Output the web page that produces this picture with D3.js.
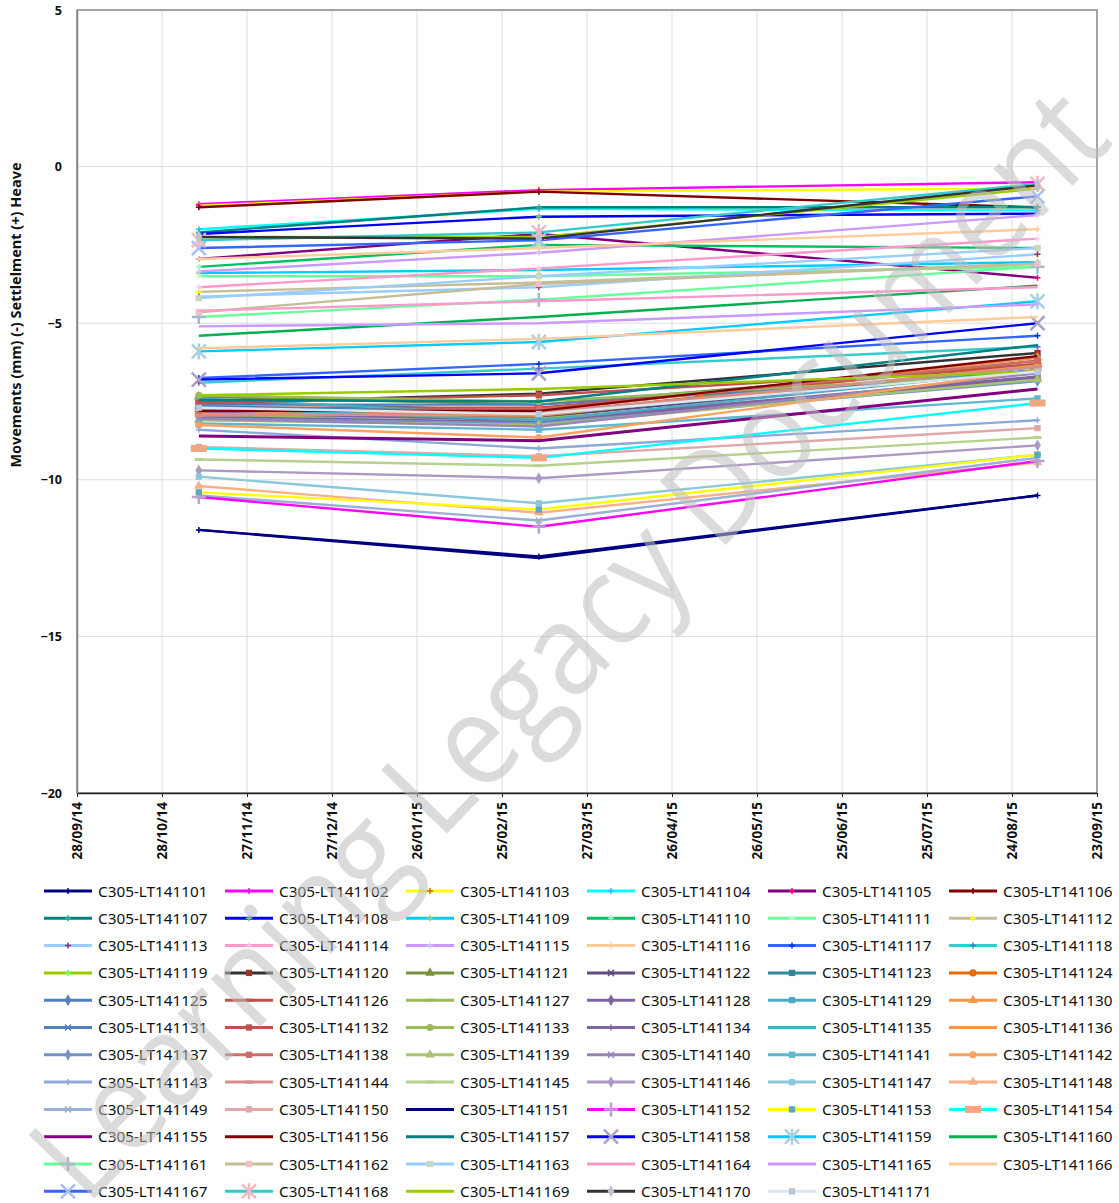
<!DOCTYPE html>
<html>
<head>
<meta charset="utf-8">
<script src="https://cdn.jsdelivr.net/npm/d3@7/dist/d3.min.js"></script>
<style>
html,body{margin:0;padding:0;background:#fff;}
svg{display:block;}
</style>
</head>
<body>
<svg id="chart" width="1119" height="1203"></svg>
<script>
// ---------------- DATA ----------------
const seriesIds = d3.range(101, 172).map(n => "C305-LT141" + n);
const surveyDates = ["2014-11-10", "2015-03-10", "2015-09-02"];
const tickDates = ["2014-09-28","2014-10-28","2014-11-27","2014-12-27","2015-01-26","2015-02-25","2015-03-27","2015-04-26","2015-05-26","2015-06-25","2015-07-25","2015-08-24","2015-09-23"];
const tickLabels = ["28/09/14","28/10/14","27/11/14","27/12/14","26/01/15","25/02/15","27/03/15","26/04/15","26/05/15","25/06/15","25/07/15","24/08/15","23/09/15"];
const yTicks = [5, 0, -5, -10, -15, -20];

// movement values (mm) at each survey date, series 101..171
const valuesNov = [
 -11.6,-1.2,-1.25,-2.0,-2.95,-1.3,-2.1,-2.15,-3.4,-3.2,
 -3.5,-4.0,-4.15,-3.85,-3.35,-2.95,-6.75,-6.9,-2.25,-7.55,
 -7.35,-7.9,-7.5,-7.8,-7.6,-7.7,-7.95,-7.85,-7.4,-7.75,
 -7.65,-7.55,-7.3,-8.0,-7.7,-7.9,-8.05,-7.8,-8.1,-8.05,
 -8.2,-8.25,-8.4,-7.95,-9.35,-9.7,-9.9,-10.2,-10.5,-8.95,
 -11.6,-10.55,-10.4,-9.0,-8.6,-7.8,-7.45,-6.8,-5.9,-5.4,
 -4.8,-4.65,-4.2,-4.6,-5.1,-5.8,-2.6,-2.35,-7.3,-2.25,
 -7.7];
const valuesMar = [
 -12.45,-0.75,-0.8,-1.35,-2.15,-0.8,-1.3,-1.6,-3.3,-2.5,
 -3.5,-3.7,-3.85,-3.25,-2.75,-2.6,-6.3,-6.45,-2.25,-7.25,
 -7.6,-8.0,-7.8,-7.9,-7.6,-7.7,-8.05,-8.1,-7.95,-7.8,
 -7.85,-7.3,-7.5,-8.15,-8.1,-7.95,-8.2,-7.75,-8.25,-8.3,
 -8.4,-8.65,-9.0,-7.85,-9.55,-9.95,-10.75,-11.05,-11.3,-9.25,
 -12.5,-11.5,-10.95,-9.3,-8.75,-7.8,-7.5,-6.6,-5.6,-4.8,
 -4.25,-3.75,-3.5,-4.3,-5.0,-5.5,-2.35,-2.1,-7.1,-2.3,
 -7.9];
const valuesSep = [
 -10.5,-0.5,-0.7,-1.4,-3.55,-1.3,-1.3,-1.5,-3.05,-2.6,
 -3.2,-3.1,-2.8,-2.3,-1.55,-2.0,-5.4,-5.75,-0.7,-5.95,
 -6.3,-6.5,-6.1,-6.2,-6.6,-6.3,-6.8,-6.7,-6.4,-6.1,
 -6.5,-6.4,-6.6,-6.75,-6.5,-6.35,-6.85,-6.2,-6.8,-6.6,
 -7.4,-6.5,-8.1,-6.4,-8.65,-8.9,-9.2,-9.45,-9.3,-8.35,
 -10.5,-9.4,-9.2,-7.55,-7.1,-6.05,-5.7,-5.0,-4.3,-3.8,
 -3.2,-3.1,-2.6,-3.85,-4.4,-4.8,-0.95,-0.55,-6.55,-0.6,
 -6.55];

const lineColors = [
 "#000080","#FF00FF","#FFFF00","#00FFFF","#800080","#800000","#008080","#0000FF","#00CCFF","#00C060",
 "#66FF99","#C4BD97","#99CCFF","#FF99CC","#CC99FF","#FFCC99","#3366FF","#33CCCC","#99CC00","#333333",
 "#77933C","#604A7B","#31859C","#E46C0A","#4F81BD","#C0504D","#9BBB59","#8064A2","#4BACC6","#F79646",
 "#4F81BD","#C0504D","#9BBB59","#8064A2","#4BACC6","#F79646","#7394CB","#CD6C69","#A9C46E","#9A84B6",
 "#5FB6CF","#F8A262","#8EA9D8","#D58D8B","#B8D08E","#AB9AC6","#8BC8DA","#F8B088","#9BB0D3","#E0A8A7",
 "#000080","#FF00FF","#FFFF00","#00FFFF","#800080","#800000","#008080","#0000FF","#00CCFF","#00B050",
 "#66FF99","#C4BD97","#99CCFF","#FF99CC","#CC99FF","#FFCC99","#3366FF","#33CCCC","#99CC00","#333333",
 "#DCE6F2"];
const markerTypes = [
 "plus","plus","plus","plus","plus","plus","plus","plus","plus","plus",
 "plus","plus","plus","plus","plus","plus","plus","plus","plus","square",
 "triangle","x","square","circle","diamond","dash","dash","diamond","square","triangle",
 "x","square","circle","plus","dash","dash","diamond","square","triangle","x",
 "square","circle","plus","dash","dash","diamond","square","triangle","x","square",
 "none","bigplus","square","rect","none","none","none","bigx","asterisk","none",
 "bigplus","square","square","none","none","none","bigx","asterisk","none","diamond",
 "square"];
const markerColors = [
 "#000080","#FF00FF","#E06020","#33BBFF","#FF0066","#800000","#20B0A0","#66CC99","#99CC66","#99FFCC",
 "#CCFFCC","#FFFF00","#993366","#FFCCEE","#CCCCFF","#FFCC99","#0033CC","#6666CC","#66FF66","#A0302E",
 "#77933C","#604A7B","#31859C","#E46C0A","#4F81BD","#C0504D","#9BBB59","#8064A2","#4BACC6","#F79646",
 "#4F81BD","#C0504D","#9BBB59","#8064A2","#4BACC6","#F79646","#7394CB","#CD6C69","#A9C46E","#9A84B6",
 "#5FB6CF","#F8A262","#8EA9D8","#D58D8B","#B8D08E","#AB9AC6","#8BC8DA","#F8B088","#9BB0D3","#E0A8A7",
 "#000080","#B8A0D0","#5BA8C0","#F0A880","#800080","#800000","#008080","#A8A0C8","#A8D0E0","#00B050",
 "#A0B8D0","#F0C0C8","#C8D8C0","#FF99CC","#CC99FF","#FFCC99","#A8C0F0","#F0B8C0","#99CC00","#C0C0D0",
 "#B8C8D8"];

// ---------------- LAYOUT ----------------
const svg = d3.select("#chart");
const plot = {left: 77, right: 1097, top: 10, bottom: 793};
const parse = d3.utcParse("%Y-%m-%d");

const x = d3.scaleUtc()
  .domain([parse(tickDates[0]), parse(tickDates[tickDates.length-1])])
  .range([plot.left, plot.right]);
const y = d3.scaleLinear().domain([-20, 5]).range([plot.bottom, plot.top]);

const FONT = "'Noto Sans', 'DejaVu Sans', sans-serif";

// gridlines
const grid = svg.append("g");
grid.selectAll("line.v").data(tickDates.slice(1, -1)).join("line")
  .attr("x1", d => x(parse(d))).attr("x2", d => x(parse(d)))
  .attr("y1", plot.top).attr("y2", plot.bottom)
  .attr("stroke", "#dcdcdc").attr("stroke-width", 1);
grid.selectAll("line.h").data(yTicks.slice(1, -1)).join("line")
  .attr("x1", plot.left).attr("x2", plot.right)
  .attr("y1", d => y(d)).attr("y2", d => y(d))
  .attr("stroke", "#dcdcdc").attr("stroke-width", 1);

// frame
svg.append("rect").attr("x", plot.left).attr("y", plot.top)
  .attr("width", plot.right - plot.left).attr("height", plot.bottom - plot.top)
  .attr("fill", "none").attr("stroke", "#868686").attr("stroke-width", 1.5);

// axes
const xAxis = d3.axisBottom(x)
  .tickValues(tickDates.map(parse))
  .tickFormat((d, i) => tickLabels[i])
  .tickSize(4).tickSizeOuter(0);
const gx = svg.append("g").attr("transform", `translate(0,${plot.bottom})`).call(xAxis);
gx.select(".domain").attr("stroke", "#222").attr("stroke-width", 1.5);
gx.selectAll(".tick line").attr("stroke", "#222");
gx.selectAll(".tick text")
  .attr("font-family", FONT).attr("font-size", 13.5).attr("font-weight", "bold").attr("fill", "#111")
  .attr("transform", "rotate(-90)")
  .attr("text-anchor", "end").attr("x", -9).attr("y", 0).attr("dy", "0.36em");

const yAxis = d3.axisLeft(y).tickValues(yTicks).tickFormat(d3.format("d")).tickSize(0).tickPadding(15);
const gy = svg.append("g").attr("transform", `translate(${plot.left},0)`).call(yAxis);
gy.select(".domain").attr("stroke", "#868686").attr("stroke-width", 1.5);
gy.selectAll(".tick text")
  .attr("font-family", FONT).attr("font-size", 12.5).attr("font-weight", "bold").attr("fill", "#111");

svg.append("text")
  .attr("transform", "translate(21,315) rotate(-90)")
  .attr("text-anchor", "middle")
  .attr("font-family", FONT).attr("font-size", 14.5).attr("font-weight", "bold").attr("fill", "#111")
  .text("Movements (mm) (-) Settlelment (+) Heave");

// ---------------- MARKERS ----------------
function drawMarker(g, type, color, cx, cy) {
  const s = 3;
  if (type === "none") return;
  if (type === "plus" || type === "bigplus") {
    const r = type === "bigplus" ? 7 : s;
    g.append("path").attr("d", `M${cx-r},${cy}H${cx+r}M${cx},${cy-r}V${cy+r}`)
      .attr("stroke", color).attr("stroke-width", type === "bigplus" ? 2.5 : 1.5).attr("fill", "none");
  } else if (type === "x" || type === "bigx") {
    const r = type === "bigx" ? 7 : s;
    g.append("path").attr("d", `M${cx-r},${cy-r}L${cx+r},${cy+r}M${cx-r},${cy+r}L${cx+r},${cy-r}`)
      .attr("stroke", color).attr("stroke-width", type === "bigx" ? 2.5 : 1.5).attr("fill", "none");
  } else if (type === "asterisk") {
    const r = 7;
    g.append("path").attr("d", `M${cx-r},${cy-r}L${cx+r},${cy+r}M${cx-r},${cy+r}L${cx+r},${cy-r}M${cx},${cy-r-1}V${cy+r+1}`)
      .attr("stroke", color).attr("stroke-width", 2.5).attr("fill", "none");
  } else if (type === "dash") {
    g.append("path").attr("d", `M${cx-4},${cy}H${cx+4}`)
      .attr("stroke", color).attr("stroke-width", 3).attr("fill", "none");
  } else if (type === "rect") {
    g.append("rect").attr("x", cx-8).attr("y", cy-3.5).attr("width", 16).attr("height", 7).attr("fill", color);
  } else {
    const map = {square: d3.symbolSquare, circle: d3.symbolCircle, triangle: d3.symbolTriangle, diamond: d3.symbolDiamond};
    g.append("path").attr("d", d3.symbol().type(map[type]).size(40)())
      .attr("transform", `translate(${cx},${cy})`).attr("fill", color);
  }
}

// ---------------- SERIES ----------------
const line = d3.line().x(d => x(d.date)).y(d => y(d.value));
const seriesG = svg.append("g");
seriesIds.forEach((id, i) => {
  const pts = [valuesNov[i], valuesMar[i], valuesSep[i]].map((v, k) => ({date: parse(surveyDates[k]), value: v}));
  const g = seriesG.append("g");
  g.append("path").datum(pts).attr("d", line)
    .attr("fill", "none").attr("stroke", lineColors[i])
    .attr("stroke-width", i === 54 ? 3 : 2.4).attr("stroke-linejoin", "round");
  pts.forEach(p => drawMarker(g, markerTypes[i], markerColors[i], x(p.date), y(p.value)));
});

// ---------------- LEGEND ----------------
const colX = d3.range(6).map(c => 44 + c * 181);
const rowY0 = 891, rowStep = 27.3;
const legend = svg.append("g");
seriesIds.forEach((id, i) => {
  const cx = colX[i % 6], cy = rowY0 + Math.floor(i / 6) * rowStep;
  const g = legend.append("g");
  g.append("line").attr("x1", cx).attr("x2", cx + 48).attr("y1", cy).attr("y2", cy)
    .attr("stroke", lineColors[i]).attr("stroke-width", 3);
  drawMarker(g, markerTypes[i], markerColors[i], cx + 24, cy);
  g.append("text").attr("x", cx + 54).attr("y", cy + 5.5)
    .attr("font-family", FONT).attr("font-size", 15.3).attr("fill", "#111")
    .text(id);
});

// ---------------- WATERMARK ----------------
svg.append("text")
  .attr("transform", "translate(565,640) rotate(-46)")
  .attr("text-anchor", "middle").attr("dominant-baseline", "central")
  .attr("font-family", "'Open Sans', 'Noto Sans', sans-serif").attr("font-size", 128)
  .attr("textLength", 1480).attr("lengthAdjust", "spacingAndGlyphs")
  .attr("fill", "#bdbdbd").attr("fill-opacity", 0.55)
  .text("Learning Legacy Document");
</script>
</body>
</html>
